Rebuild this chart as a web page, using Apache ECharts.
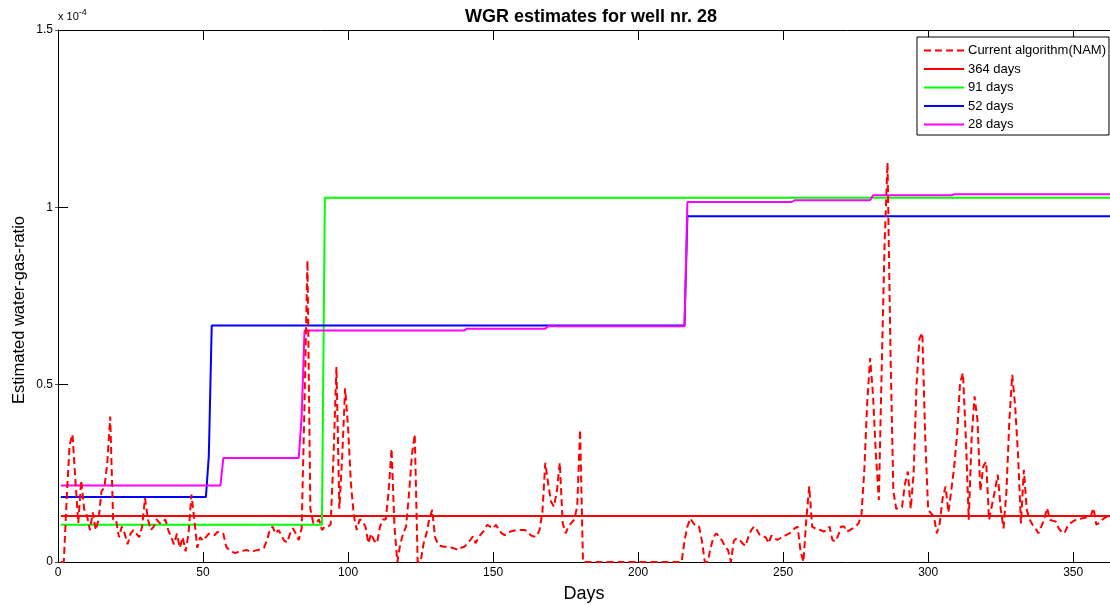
<!DOCTYPE html>
<html>
<head>
<meta charset="utf-8">
<script src="https://cdn.jsdelivr.net/npm/echarts@6/dist/echarts.min.js"></script>
<style>
html,body{margin:0;padding:0;background:#fff;}
#chart{width:1110px;height:605px;}
</style>
</head>
<body>
<div id="chart"></div>
<script>
// Values in units of 1e-4
const xTicks = [0, 50, 100, 150, 200, 250, 300, 350];
const yTicks = [0, 0.5, 1, 1.5];

// Current algorithm (NAM), one value per day starting at day 1
const namValues = [
  0, 0, 0.18, 0.33, 0.36, 0.23, 0.11, 0.23, 0.15, 0.13,
  0.09, 0.14, 0.09, 0.12, 0.2, 0.21, 0.28, 0.41, 0.12, 0.12,
  0.07, 0.1, 0.08, 0.05, 0.08, 0.09, 0.08, 0.07, 0.1, 0.18,
  0.12, 0.09, 0.1, 0.12, 0.11, 0.11, 0.12, 0.09, 0.07, 0.05,
  0.08, 0.04, 0.07, 0.03, 0.08, 0.19, 0.12, 0.04, 0.07, 0.06,
  0.07, 0.08, 0.08, 0.076, 0.085, 0.08, 0.08, 0.043, 0.034, 0.03,
  0.025, 0.028, 0.03, 0.032, 0.034, 0.03, 0.03, 0.032, 0.034, 0.036,
  0.04, 0.06, 0.09, 0.1, 0.08, 0.09, 0.076, 0.06, 0.055, 0.08,
  0.095, 0.08, 0.062, 0.095, 0.45, 0.85, 0.15, 0.11, 0.11, 0.12,
  0.09, 0.1, 0.1, 0.105, 0.3, 0.55, 0.15, 0.3, 0.49, 0.38,
  0.22, 0.13, 0.09, 0.12, 0.115, 0.1, 0.053, 0.08, 0.06, 0.053,
  0.1, 0.12, 0.12, 0.2, 0.32, 0.1, 0, 0.05, 0.08, 0.1,
  0.19, 0.3, 0.36, 0, 0, 0.05, 0.08, 0.12, 0.147, 0.07,
  0.05, 0.045, 0.043, 0.043, 0.042, 0.04, 0.037, 0.034, 0.04, 0.043,
  0.05, 0.06, 0.072, 0.053, 0.07, 0.08, 0.09, 0.105, 0.1, 0.095,
  0.105, 0.09, 0.081, 0.076, 0.08, 0.086, 0.088, 0.09, 0.09, 0.09,
  0.09, 0.085, 0.075, 0.072, 0.072, 0.09, 0.14, 0.28, 0.22, 0.17,
  0.156, 0.2, 0.28, 0.11, 0.081, 0.1, 0.11, 0.12, 0.156, 0.373,
  0, 0, 0, 0, 0, 0, 0, 0, 0, 0,
  0, 0, 0, 0, 0, 0, 0, 0, 0, 0,
  0, 0, 0, 0, 0, 0, 0, 0, 0, 0,
  0, 0, 0, 0, 0, 0.06, 0.1, 0.123, 0.11, 0.1,
  0.1, 0.06, 0, 0, 0.04, 0.07, 0.081, 0.07, 0.06, 0.043,
  0.034, 0, 0.06, 0.067, 0.062, 0.053, 0.045, 0.07, 0.09, 0.1,
  0.09, 0.075, 0.072, 0.07, 0.053, 0.075, 0.068, 0.062, 0.067, 0.072,
  0.076, 0.08, 0.085, 0.095, 0.1, 0.03, 0, 0.12, 0.213, 0.1,
  0.095, 0.092, 0.09, 0.086, 0.09, 0.1, 0.062, 0.058, 0.075, 0.1,
  0.1, 0.085, 0.09, 0.095, 0.1, 0.109, 0.133, 0.26, 0.45, 0.575,
  0.47, 0.3, 0.175, 0.55, 0.9, 1.126, 0.6, 0.2, 0.15, 0.152,
  0.155, 0.22, 0.255, 0.15, 0.25, 0.5, 0.63, 0.646, 0.35, 0.147,
  0.137, 0.128, 0.081, 0.109, 0.18, 0.213, 0.14, 0.203, 0.27, 0.363,
  0.505, 0.533, 0.35, 0.119, 0.35, 0.467, 0.4, 0.2, 0.27, 0.283,
  0.119, 0.16, 0.2, 0.246, 0.15, 0.095, 0.2, 0.4, 0.528, 0.44,
  0.3, 0.109, 0.26, 0.147, 0.12, 0.105, 0.095, 0.081, 0.1, 0.12,
  0.152, 0.119, 0.116, 0.114, 0.095, 0.085, 0.081, 0.1, 0.109, 0.115,
  0.119, 0.12, 0.123, 0.125, 0.127, 0.128, 0.152, 0.105, 0.11, 0.119,
  0.125, 0.13, 0.13
];

// Windowed estimates: breakpoints (day, value)
const w364Days = [1, 364];
const w364Vals = [0.13, 0.13];

const w91Days = [1, 91, 92, 364];
const w91Vals = [0.105, 0.105, 1.027, 1.027];

const w52Days = [1, 51, 52, 53, 216, 217, 364];
const w52Vals = [0.183, 0.183, 0.3, 0.667, 0.667, 0.975, 0.975];

const w28Days = [1, 56, 57, 83, 84, 85, 140, 141, 168, 169, 216, 217, 253, 254, 280, 281, 308, 309, 364];
const w28Vals = [0.2155, 0.2155, 0.293, 0.293, 0.41, 0.6525, 0.6525, 0.658, 0.658, 0.665, 0.665, 1.015, 1.015, 1.02, 1.02, 1.034, 1.034, 1.037, 1.037];

const pairs = (d, v) => d.map((x, i) => [x, v[i]]);
const namData = namValues.map((v, i) => [i + 1, v]);

const FONT = 'Liberation Sans, Arial, Helvetica, sans-serif';
const X_MAX = 362.7;

const chart = echarts.init(document.getElementById('chart'), null, {renderer: 'canvas'});

const axisLineStyle = {color: '#000', width: 1};

chart.setOption({
  animation: false,
  backgroundColor: '#fff',
  textStyle: {fontFamily: FONT},
  title: {
    text: 'WGR estimates for well nr. 28',
    left: 586, top: 3, textAlign: 'center',
    textStyle: {fontSize: 18, fontWeight: 'bold', color: '#000', fontFamily: FONT}
  },
  grid: {left: 58, top: 30, right: 0, height: 532, containLabel: false, outerBoundsMode: 'none'},
  legend: {
    orient: 'vertical',
    left: 917, top: 37,
    data: ['Current algorithm(NAM)', '364 days', '91 days', '52 days', '28 days'],
    backgroundColor: '#fff',
    borderColor: '#000', borderWidth: 1,
    padding: [7, 3, 4, 6],
    itemWidth: 40, itemHeight: 14, itemGap: 5.5,
    itemStyle: {opacity: 0},
    textStyle: {fontSize: 13, color: '#000', fontFamily: FONT, padding: [0, 0, 0, -1]}
  },
  graphic: [{
    type: 'text', left: 58, top: 8,
    style: {
      text: 'x 10{s|-4}',
      font: '11px ' + FONT, fill: '#000',
      rich: {s: {fontSize: 9, verticalAlign: 'top', padding: [0, 0, 8, 0], fontFamily: FONT}}
    }
  }, {
    type: 'text', x: 19, y: 310, rotation: Math.PI / 2,
    style: {
      text: 'Estimated water-gas-ratio',
      font: '16.5px ' + FONT, fill: '#000', align: 'center', verticalAlign: 'middle'
    }
  }],
  xAxis: [{
    type: 'value', min: 0, max: X_MAX, interval: 50,
    name: 'Days', nameLocation: 'middle', nameGap: 23,
    nameTextStyle: {fontSize: 18, color: '#000', fontFamily: FONT},
    axisLine: {show: true, onZero: false, lineStyle: axisLineStyle},
    axisTick: {show: true, inside: true, length: 10, lineStyle: axisLineStyle},
    axisLabel: {color: '#000', fontSize: 12, margin: 5, fontFamily: FONT, showMaxLabel: false,
      formatter: v => String(xTicks.find(t => Math.abs(t - v) < 1e-9) ?? '')},
    splitLine: {show: false}
  }, {
    type: 'value', min: 0, max: X_MAX, interval: 50, position: 'top',
    axisLine: {show: true, onZero: false, lineStyle: axisLineStyle},
    axisTick: {show: true, inside: true, length: 10, lineStyle: axisLineStyle},
    axisLabel: {show: false},
    splitLine: {show: false}
  }],
  yAxis: [{
    type: 'value', min: 0, max: 1.5, interval: 0.5,
    axisLine: {show: true, onZero: false, lineStyle: axisLineStyle},
    axisTick: {show: true, inside: true, length: 10, lineStyle: axisLineStyle},
    axisLabel: {color: '#000', fontSize: 12, margin: 5, fontFamily: FONT,
      formatter: v => String(yTicks.find(t => Math.abs(t - v) < 1e-9) ?? v)},
    splitLine: {show: false}
  }, {
    type: 'value', min: 0, max: 1.5, interval: 0.5, position: 'right',
    axisLine: {show: false},
    axisTick: {show: true, inside: true, length: 3, lineStyle: {color: '#555', width: 1}},
    axisLabel: {show: false},
    splitLine: {show: false}
  }],
  series: [
    {
      name: '364 days', type: 'line', data: pairs(w364Days, w364Vals),
      symbol: 'none', lineStyle: {color: '#ff0000', width: 2}, itemStyle: {color: '#ff0000'}, z: 2
    },
    {
      name: '91 days', type: 'line', data: pairs(w91Days, w91Vals),
      symbol: 'none', lineStyle: {color: '#00ff00', width: 2}, itemStyle: {color: '#00ff00'}, z: 2
    },
    {
      name: '52 days', type: 'line', data: pairs(w52Days, w52Vals),
      symbol: 'none', lineStyle: {color: '#0000ff', width: 2}, itemStyle: {color: '#0000ff'}, z: 2
    },
    {
      name: '28 days', type: 'line', data: pairs(w28Days, w28Vals),
      symbol: 'none', lineStyle: {color: '#ff00ff', width: 2}, itemStyle: {color: '#ff00ff'}, z: 2
    },
    {
      name: 'Current algorithm(NAM)', type: 'line', data: namData,
      symbol: 'none', lineStyle: {color: '#ff0000', width: 2, type: [7, 4]}, itemStyle: {color: '#ff0000'}, z: 3
    }
  ]
});
</script>
</body>
</html>
